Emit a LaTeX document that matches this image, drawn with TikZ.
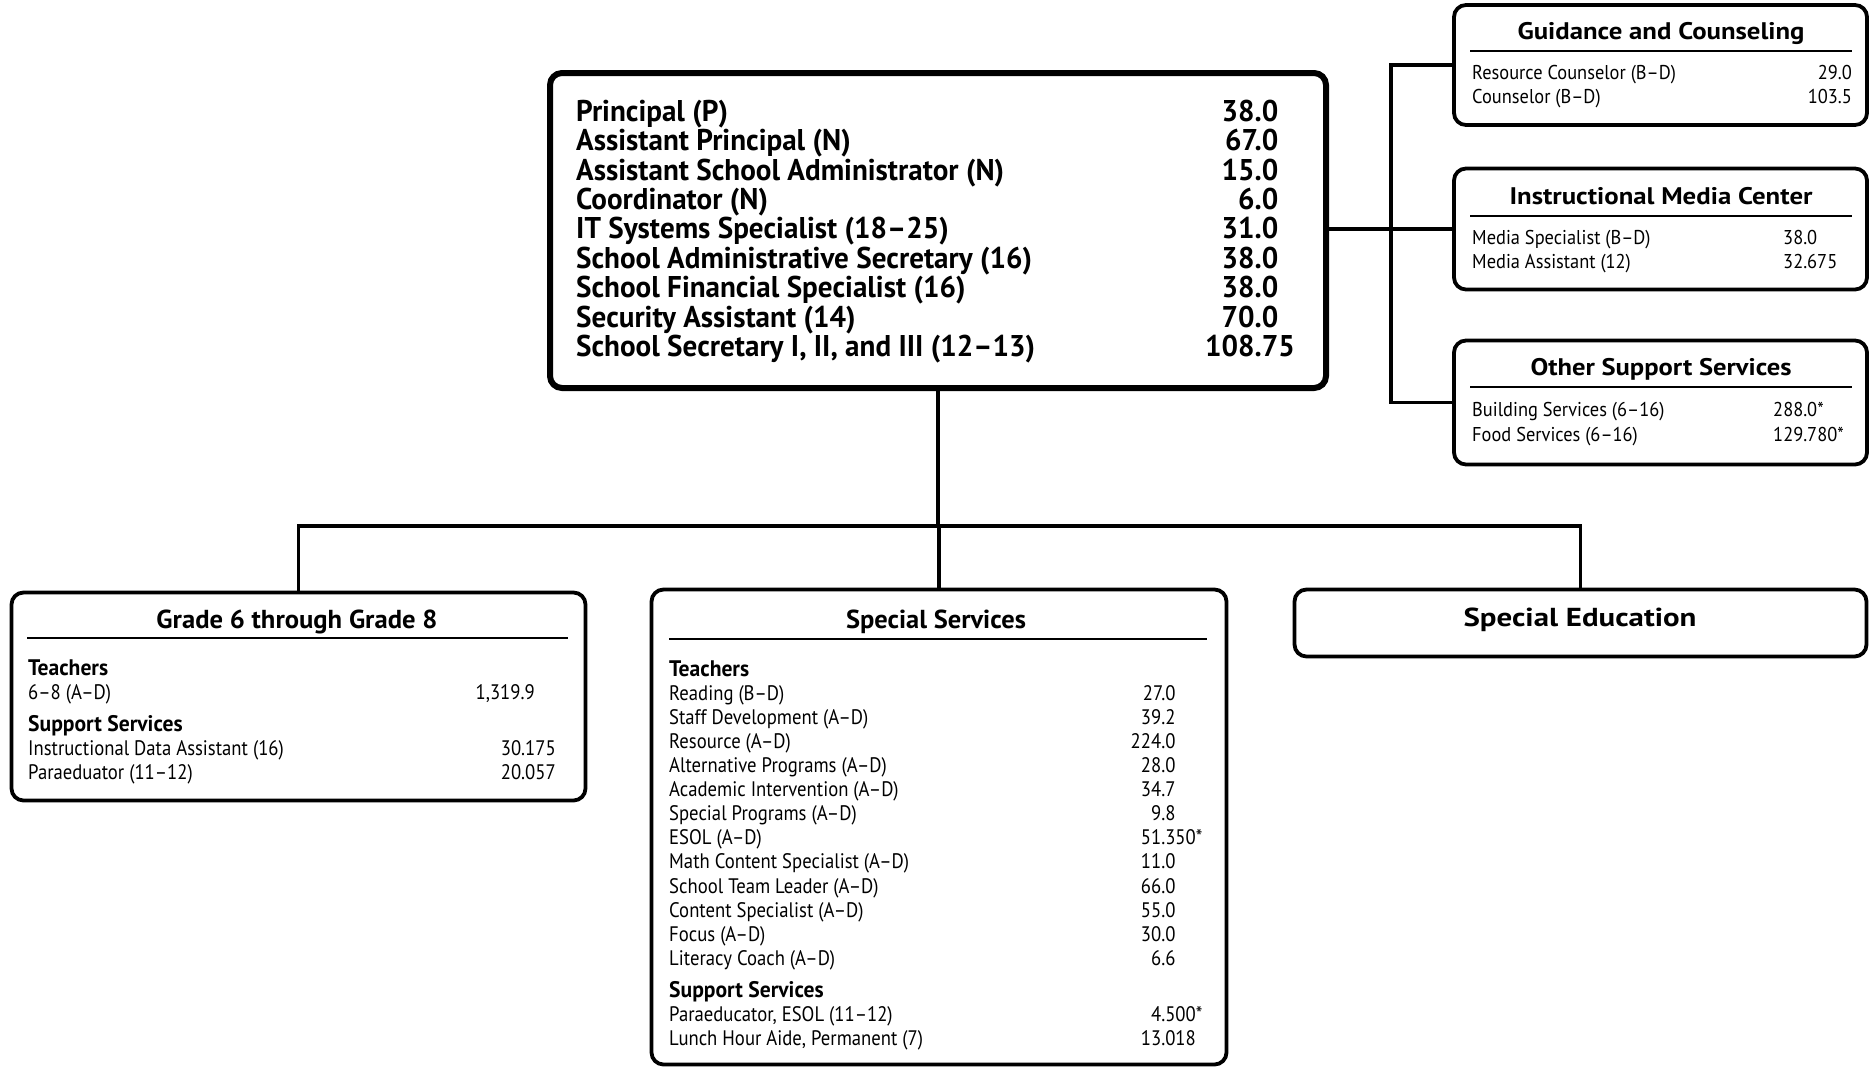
\documentclass[tikz,border=0pt]{standalone}
\usepackage{fontspec}
\usepackage{graphicx}
\setmainfont{PT Sans}
\newfontfamily\mainf[FakeStretch=0.97]{PT Sans}
\newfontfamily\condf[FakeStretch=0.89]{PT Sans}
\newfontfamily\subf[FakeStretch=0.96]{PT Sans}
\newfontfamily\rbodyf[FakeStretch=0.92]{PT Sans}
\newfontfamily\widef{PT Sans}
\newcommand\fitw[2]{\resizebox{#1}{\height}{#2}}
\begin{document}
\begin{tikzpicture}[x=1pt,y=-1pt,
  box/.style={draw, line width=3.8pt, rounded corners=12pt, inner sep=0pt},
  mainbox/.style={box, line width=6pt},
  conn/.style={line width=3.4pt},
  rule/.style={line width=2pt},
  mainlbl/.style={anchor=west, inner sep=0pt, font=\mainf\bfseries\fontsize{30}{30}\selectfont, text height=20.5pt, text depth=0pt},
  mainnum/.style={mainlbl, anchor=east},
  body/.style={anchor=west, inner sep=0pt, font=\condf\fontsize{21}{21}\selectfont, text height=14.5pt, text depth=0pt},
  bodynum/.style={body, anchor=east},
  subhd/.style={body, font=\subf\bfseries\fontsize{22.5}{22.5}\selectfont, text height=15.5pt},
  rbody/.style={anchor=west, inner sep=0pt, font=\rbodyf\fontsize{20}{20}\selectfont, text height=14pt, text depth=0pt},
  rbodynum/.style={rbody, anchor=east},
  ttl/.style={inner sep=0pt, font=\widef\bfseries\fontsize{24}{24}\selectfont, text height=17pt, text depth=0pt},
  cttl/.style={ttl, font=\subf\bfseries\fontsize{26}{26}\selectfont, text height=18pt}
]
\useasboundingbox[fill=white] (0,0) rectangle (1870,1069);

% ---------- boxes ----------
\node[mainbox, minimum width=776pt, minimum height=315pt] (main) at (938,230.5) {};
\node[box, minimum width=413pt, minimum height=120pt] (guid) at (1660.5,65) {};
\node[box, minimum width=413pt, minimum height=121pt] (imc) at (1660.5,229) {};
\node[box, minimum width=413pt, minimum height=124pt] (oss) at (1660.5,402.5) {};
\node[box, minimum width=574pt, minimum height=208pt] (grade) at (298.5,696.5) {};
\node[box, minimum width=575pt, minimum height=475pt] (ss) at (939,827) {};
\node[box, minimum width=572pt, minimum height=67pt] (sped) at (1580.5,623) {};

% ---------- connectors ----------
\coordinate (bus) at (0,526);
\coordinate (spine) at (1391,0);
\draw[conn] (main.south) -- (main.south |- bus);
\draw[conn] (grade.north) -- (grade.north |- bus) -- (sped.north |- bus) -- (sped.north);
\draw[conn] (ss.north) -- (ss.north |- bus);
\draw[conn] (guid.west) -- (guid.west -| spine) -- (oss.west -| spine) -- (oss.west);
\draw[conn] (main.east |- imc.west) -- (imc.west);

% ---------- main box ----------
\foreach \t/\v [count=\i from 0] in {
  Principal (P)/38.0\phantom{0},
  Assistant Principal (N)/67.0\phantom{0},
  Assistant School Administrator (N)/15.0\phantom{0},
  Coordinator (N)/6.0\phantom{0},
  IT Systems Specialist (18–25)/31.0\phantom{0},
  School Administrative Secretary (16)/38.0\phantom{0},
  School Financial Specialist (16)/38.0\phantom{0},
  Security Assistant (14)/70.0\phantom{0},
  {School Secretary I, II, and III (12–13)}/108.75}
{
  \node[mainlbl] (ml\i) at (576,111+29.4*\i) {\t};
  \node[mainnum] (mv\i) at (1295,111+29.4*\i) {\v};
}

% ---------- guidance ----------
\node[ttl] (guidt) at (1661,31) {\fitw{287pt}{Guidance and Counseling}};
\draw[rule] (1470,51) -- (1852,51);
\node[rbody] (g1) at (1472,72.5) {Resource Counselor (B–D)};
\node[rbodynum] (g1v) at (1852,72.5) {29.0};
\node[rbody] (g2) at (1472,96) {Counselor (B–D)};
\node[rbodynum] (g2v) at (1852,96) {103.5};

% ---------- IMC ----------
\node[ttl] (imct) at (1661,196) {\fitw{303pt}{Instructional Media Center}};
\draw[rule] (1470,216) -- (1852,216);
\node[rbody] (i1) at (1472,237) {Media Specialist (B–D)};
\node[rbody] (i1v) at (1783,237) {38.0};
\node[rbody] (i2) at (1472,261) {Media Assistant (12)};
\node[rbody] (i2v) at (1783,261) {32.675};

% ---------- OSS ----------
\node[ttl] (osst) at (1661,367) {\fitw{261pt}{Other Support Services}};
\draw[rule] (1470,387) -- (1852,387);
\node[rbody] (o1) at (1472,409) {Building Services (6–16)};
\node[rbody] (o1v) at (1773,409) {288.0*};
\node[rbody] (o2) at (1472,434) {Food Services (6–16)};
\node[rbody] (o2v) at (1773,434) {129.780*};

% ---------- grade 6-8 ----------
\node[cttl] (gradet) at (297,619) {\fitw{281pt}{Grade 6 through Grade 8}};
\draw[rule] (27,638) -- (568,638);
\node[subhd] (gt) at (28,668) {Teachers};
\node[body] (gl1) at (28,692) {6–8 (A–D)};
\node[bodynum] (gv1) at (535,692) {1,319.9};
\node[subhd] (gs) at (28,724) {Support Services};
\node[body] (gl2) at (28,748) {Instructional Data Assistant (16)};
\node[bodynum] (gv2) at (556,748) {30.175};
\node[body] (gl3) at (28,772) {Paraeduator (11–12)};
\node[bodynum] (gv3) at (556,772) {20.057};

% ---------- special services ----------
\node[cttl] (sst) at (936,619) {\fitw{180pt}{Special Services}};
\draw[rule] (669,639) -- (1207,639);
\node[subhd] (st) at (669,669) {Teachers};
\foreach \t/\v [count=\i from 0] in {
  Reading (B–D)/27.0\phantom{00},
  Staff Development (A–D)/39.2\phantom{00},
  Resource (A–D)/224.0\phantom{00},
  Alternative Programs (A–D)/28.0\phantom{00},
  Academic Intervention (A–D)/34.7\phantom{00},
  Special Programs (A–D)/9.8\phantom{00},
  ESOL (A–D)/51.350\rlap{*},
  Math Content Specialist (A–D)/11.0\phantom{00},
  School Team Leader (A–D)/66.0\phantom{00},
  Content Specialist (A–D)/55.0\phantom{00},
  Focus (A–D)/30.0\phantom{00},
  Literacy Coach (A–D)/6.6\phantom{00}}
{
  \node[body] (sl\i) at (669,693+24.1*\i) {\t};
  \node[bodynum] (sv\i) at (1196,693+24.1*\i) {\v};
}
\node[subhd] (ssp) at (669,990) {Support Services};
\node[body] (sp1) at (669,1014) {Paraeducator, ESOL (11–12)};
\node[bodynum] (sp1v) at (1196,1014) {4.500\rlap{*}};
\node[body] (sp2) at (669,1038) {Lunch Hour Aide, Permanent (7)};
\node[bodynum] (sp2v) at (1196,1038) {13.018};

% ---------- special education ----------
\node[ttl, font=\widef\bfseries\fontsize{26}{26}\selectfont, text height=18.5pt] (spedt) at (1580,617) {\fitw{233pt}{Special Education}};
\end{tikzpicture}
\end{document}
